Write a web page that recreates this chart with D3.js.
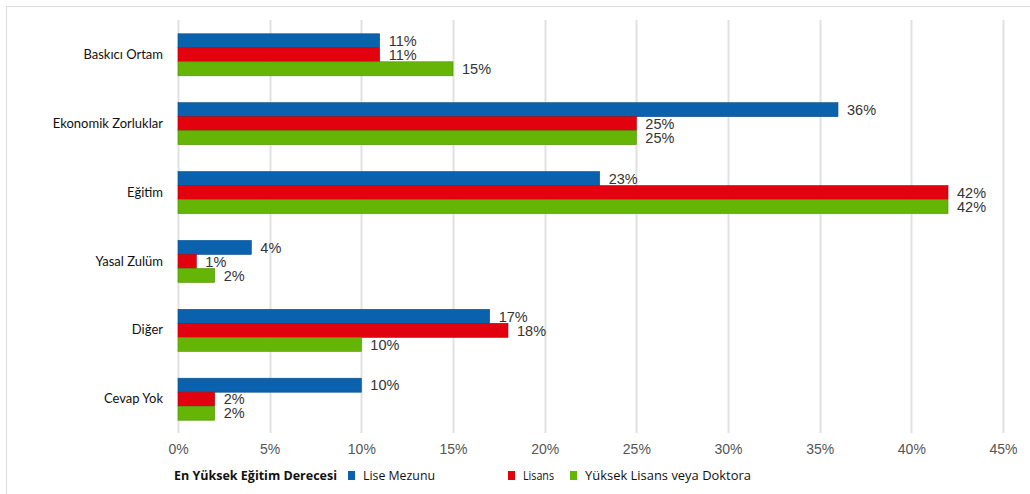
<!DOCTYPE html>
<html>
<head>
<meta charset="utf-8">
<script src="https://cdn.jsdelivr.net/npm/d3@7"></script>
<style>
  html, body { margin: 0; padding: 0; background: #fff; }
  svg { display: block; }
</style>
</head>
<body>
<svg id="chart" width="1030" height="494"></svg>
<script>
// Reasons by highest education level (percent)
const categories = ["Baskıcı Ortam", "Ekonomik Zorluklar", "Eğitim", "Yasal Zulüm", "Diğer", "Cevap Yok"];
const seriesNames = ["Lise Mezunu", "Lisans", "Yüksek Lisans veya Doktora"];
const liseMezunu = [11, 36, 23, 4, 17, 10];
const lisans = [11, 25, 42, 1, 18, 2];
const yuksekLisans = [15, 25, 42, 2, 10, 2];
const tickValues = [0, 5, 10, 15, 20, 25, 30, 35, 40, 45];
const legendTitle = "En Yüksek Eğitim Derecesi";

const colors = ["#0a62ae", "#e2010f", "#64b505"];
const strokes = ["#084e8a", "#b5000b", "#4f9104"];
const seriesValues = [liseMezunu, lisans, yuksekLisans];

const svg = d3.select("#chart");

// outer frame
svg.append("rect")
  .attr("x", 6.5).attr("y", 6.5)
  .attr("width", 1030).attr("height", 500)
  .attr("fill", "none").attr("stroke", "#dcdcdc").attr("stroke-width", 1);

const plot = { left: 178, right: 1003, top: 20, bottom: 434 };

const x = d3.scaleLinear().domain([0, 45]).range([plot.left, plot.right]);
const y = d3.scaleBand().domain(categories).range([plot.top, plot.bottom]).paddingInner(0.39).paddingOuter(0.2);
const ySub = d3.scaleBand().domain(seriesNames).range([0, y.bandwidth()]);

// vertical gridlines
svg.append("g")
  .selectAll("line")
  .data(tickValues)
  .join("line")
  .attr("x1", d => Math.round(x(d)) + 0.5)
  .attr("x2", d => Math.round(x(d)) + 0.5)
  .attr("y1", plot.top)
  .attr("y2", plot.bottom - 1)
  .attr("stroke", "#e1e1e1")
  .attr("stroke-width", 2);

// x axis tick labels
const xAxis = d3.axisBottom(x).tickValues(tickValues).tickFormat(d => d + "%").tickSize(0).tickPadding(0);
const gx = svg.append("g")
  .attr("transform", `translate(0, ${plot.bottom + 10})`)
  .call(xAxis);
gx.select(".domain").remove();
gx.selectAll("text")
  .attr("font-family", "Liberation Sans, Arial, sans-serif")
  .attr("font-size", 14)
  .attr("fill", "#555");

// category labels
const yAxis = d3.axisLeft(y).tickSize(0).tickPadding(15);
const gy = svg.append("g")
  .attr("transform", `translate(${plot.left}, 0)`)
  .call(yAxis);
gy.select(".domain").remove();
gy.selectAll("text")
  .attr("font-family", "Lato, 'Open Sans', sans-serif")
  .attr("font-size", 13)
  .attr("fill", "#111");

// bars
const groups = svg.append("g")
  .selectAll("g")
  .data(categories)
  .join("g")
  .attr("transform", d => `translate(0, ${y(d)})`);

groups.selectAll("rect")
  .data((c, i) => seriesNames.map((s, k) => ({ s, k, v: seriesValues[k][i] })))
  .join("rect")
  .attr("x", x(0))
  .attr("y", d => ySub(d.s))
  .attr("width", d => x(d.v) - x(0))
  .attr("height", ySub.bandwidth())
  .attr("fill", d => colors[d.k])
  .attr("stroke", d => strokes[d.k])
  .attr("stroke-width", 0.6);

groups.selectAll("text")
  .data((c, i) => seriesNames.map((s, k) => ({ s, k, v: seriesValues[k][i] })))
  .join("text")
  .attr("x", d => x(d.v) + 9)
  .attr("y", d => ySub(d.s) + ySub.bandwidth() / 2)
  .attr("dy", "0.36em")
  .attr("font-family", "Liberation Sans, Arial, sans-serif")
  .attr("font-size", 14.5)
  .attr("fill", "#333")
  .text(d => d.v + "%");

// legend
const legend = svg.append("g").attr("transform", "translate(0, 476)");
legend.append("text")
  .attr("x", 174).attr("y", 0).attr("dy", "0.35em")
  .attr("font-family", "'Open Sans', Lato, sans-serif")
  .attr("font-weight", "bold")
  .attr("font-size", 12)
  .attr("fill", "#111")
  .attr("textLength", 163)
  .attr("lengthAdjust", "spacingAndGlyphs")
  .text(legendTitle);

const legendX = [348, 508, 570];
const items = legend.selectAll("g.item")
  .data(seriesNames)
  .join("g")
  .attr("class", "item")
  .attr("transform", (d, i) => `translate(${legendX[i]}, 0)`);
items.append("rect")
  .attr("x", 0).attr("y", -5)
  .attr("width", 7).attr("height", 9)
  .attr("fill", (d, i) => colors[i]);
items.append("text")
  .attr("x", 15).attr("y", 0).attr("dy", "0.35em")
  .attr("font-family", "'Open Sans', Lato, sans-serif")
  .attr("font-size", 12)
  .attr("fill", "#111")
  .attr("textLength", (d, i) => [72, 31, 166][i])
  .attr("lengthAdjust", "spacingAndGlyphs")
  .text(d => d);
</script>
</body>
</html>
